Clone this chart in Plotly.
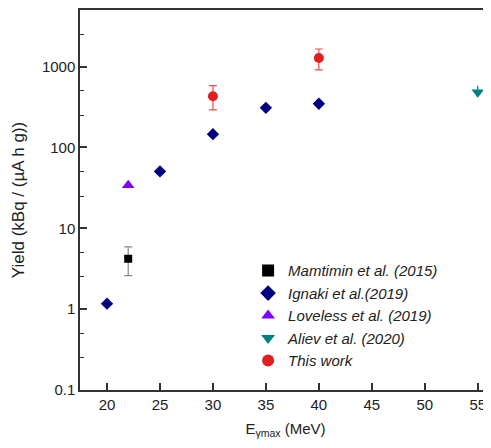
import plotly.graph_objects as go

# Data
mam_x = [22]
mam_y = [4.2]
mam_err_plus = [1.7]
mam_err_minus = [1.6]

ign_x = [20, 25, 30, 35, 40]
ign_y = [1.17, 50.5, 146, 309, 347]

lov_x = [22]
lov_y = [34]

ali_x = [55]
ali_y = [480]
ali_err_plus = [100]
ali_err_minus = [0]

tw_x = [30, 40]
tw_y = [430, 1280]
tw_err_plus = [152, 370]
tw_err_minus = [138, 370]

x_ticks = [20, 25, 30, 35, 40, 45, 50, 55]
y_ticks = [0.1, 1, 10, 100, 1000]
y_tick_text = ["0.1", "1", "10", "100", "1000"]
y_minor = [0.25, 0.5, 2.5, 5, 25, 50, 250, 500, 2500, 5000]

fig = go.Figure()

fig.add_trace(go.Scatter(
    x=mam_x, y=mam_y, mode="markers", name="<i>Mamtimin et al. (2015)</i>",
    marker=dict(symbol="square", size=8, color="black"),
    error_y=dict(type="data", array=mam_err_plus, arrayminus=mam_err_minus,
                 color="#888888", thickness=1.2, width=4)))

fig.add_trace(go.Scatter(
    x=ign_x, y=ign_y, mode="markers", name="<i>Ignaki et al.(2019)</i>",
    marker=dict(symbol="diamond", size=9.5, color="#000080")))

fig.add_trace(go.Scatter(
    x=lov_x, y=lov_y, mode="markers", name="<i>Loveless et al. (2019)</i>",
    marker=dict(symbol="triangle-up", size=11, color="#8000FF")))

fig.add_trace(go.Scatter(
    x=ali_x, y=ali_y, mode="markers", name="<i>Aliev et al. (2020)</i>",
    marker=dict(symbol="triangle-down", size=11, color="#008080"),
    error_y=dict(type="data", array=ali_err_plus, arrayminus=ali_err_minus,
                 color="#008080", thickness=1.2, width=0)))

fig.add_trace(go.Scatter(
    x=tw_x, y=tw_y, mode="markers", name="<i>This work</i>",
    marker=dict(symbol="circle", size=10, color="#E02020"),
    error_y=dict(type="data", array=tw_err_plus, arrayminus=tw_err_minus,
                 color="#E85050", thickness=1.2, width=4)))

font_family = "Liberation Sans, Arial, sans-serif"

fig.update_layout(
    width=483, height=440,
    margin=dict(l=72, r=0, t=2, b=58, autoexpand=False),
    paper_bgcolor="white", plot_bgcolor="white",
    font=dict(family=font_family, size=15, color="#222222"),
    showlegend=True,
    legend=dict(
        x=0.409, y=0.357, xanchor="left", yanchor="top",
        bgcolor="rgba(0,0,0,0)",
        font=dict(family=font_family, size=15, color="#222222"),
        tracegroupgap=0, itemsizing="constant",
    ),
    xaxis=dict(
        range=[17.45, 56.25],
        tickvals=x_ticks,
        ticks="inside", ticklen=7, tickwidth=1.5, tickcolor="#333333",
        showline=True, linecolor="#333333", linewidth=1.5, mirror=True,
        showgrid=False, zeroline=False, automargin=False,
        tickfont=dict(size=15),
        title=dict(text="E<sub>γmax</sub> (MeV)", font=dict(size=15), standoff=12),
    ),
    yaxis=dict(
        type="log",
        range=[-1, 3.70],
        tickvals=y_ticks, ticktext=y_tick_text,
        ticks="inside", ticklen=7, tickwidth=1.5, tickcolor="#333333",
        showline=True, linecolor="#333333", linewidth=1.5, mirror=False,
        showgrid=False, zeroline=False, automargin=False,
        tickfont=dict(size=15),
        minor=dict(tickvals=y_minor, ticks="inside", ticklen=4, tickwidth=1.2,
                   tickcolor="#333333", showgrid=False),
        title=dict(text="Yield (kBq / (µA h g))", font=dict(size=17), standoff=13),
    ),
)

fig.write_html("out.html")
